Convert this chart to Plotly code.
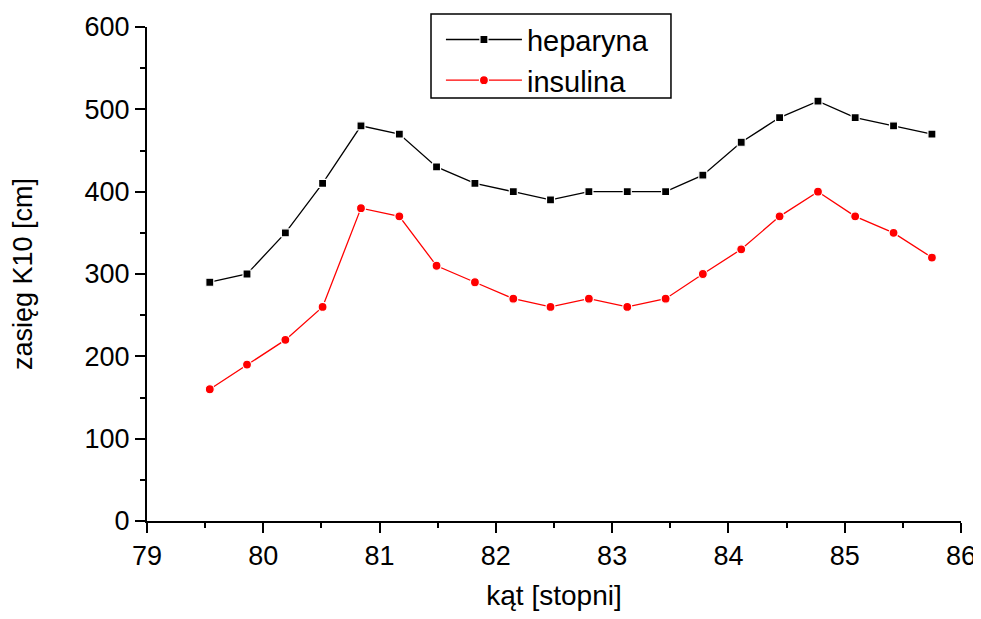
import plotly.graph_objects as go

kat = [79.54, 79.86, 80.19, 80.51, 80.84, 81.17, 81.49, 81.82, 82.15, 82.47,
       82.80, 83.13, 83.46, 83.78, 84.11, 84.44, 84.77, 85.09, 85.42, 85.75]
heparyna = [290, 300, 350, 410, 480, 470, 430, 410, 400, 390,
            400, 400, 400, 420, 460, 490, 510, 490, 480, 470]
insulina = [160, 190, 220, 260, 380, 370, 310, 290, 270, 260,
            270, 260, 270, 300, 330, 370, 400, 370, 350, 320]

FONT = "Liberation Sans, Arial, sans-serif"

fig = go.Figure()
fig.add_trace(go.Scatter(
    x=kat, y=heparyna, name="heparyna", mode="lines+markers",
    line=dict(color="black", width=1.3),
    marker=dict(symbol="square", size=8, color="black",
                line=dict(color="white", width=1.2))))
fig.add_trace(go.Scatter(
    x=kat, y=insulina, name="insulina", mode="lines+markers",
    line=dict(color="red", width=1.3),
    marker=dict(symbol="circle", size=9, color="red",
                line=dict(color="white", width=1.2))))

axis_common = dict(
    showline=True, linecolor="black", linewidth=2, mirror=False,
    ticks="outside", ticklen=10, tickwidth=2, tickcolor="black",
    showgrid=False, zeroline=False, automargin=False,
    tickfont=dict(family=FONT, size=27, color="black"),
)

# legend frame (drawn as a paper-referenced rectangle)
fig.add_shape(type="rect", xref="paper", yref="paper",
              x0=0.3489, x1=0.6437, y0=0.8563, y1=1.0263,
              line=dict(color="black", width=1.5), fillcolor="white", layer="below")

fig.update_layout(
    width=973, height=603,
    margin=dict(l=139, r=20, t=19, b=90, autoexpand=False),
    paper_bgcolor="white", plot_bgcolor="white",
    font=dict(family=FONT, size=27, color="black"),
    xaxis=dict(range=[79, 86], tickvals=[79, 80, 81, 82, 83, 84, 85, 86],
               ticklabeloverflow="allow",
               minor=dict(tickvals=[79.5, 80.5, 81.5, 82.5, 83.5, 84.5, 85.5],
                          ticks="outside", ticklen=5, tickwidth=2, tickcolor="black"),
               title=dict(text="kąt [stopni]", font=dict(family=FONT, size=28), standoff=28),
               **axis_common),
    yaxis=dict(range=[0, 600], tickvals=[0, 100, 200, 300, 400, 500, 600],
               minor=dict(tickvals=[50, 150, 250, 350, 450, 550],
                          ticks="outside", ticklen=5, tickwidth=2, tickcolor="black"),
               title=dict(text="zasięg K10 [cm]", font=dict(family=FONT, size=27), standoff=53),
               **axis_common),
    legend=dict(x=0.3611, y=1.026, xanchor="left", yanchor="top",
                borderwidth=0, bgcolor="rgba(0,0,0,0)",
                font=dict(family=FONT, size=29, color="black"),
                itemwidth=76, tracegroupgap=0),
    showlegend=True,
)

fig.write_html("out.html")
